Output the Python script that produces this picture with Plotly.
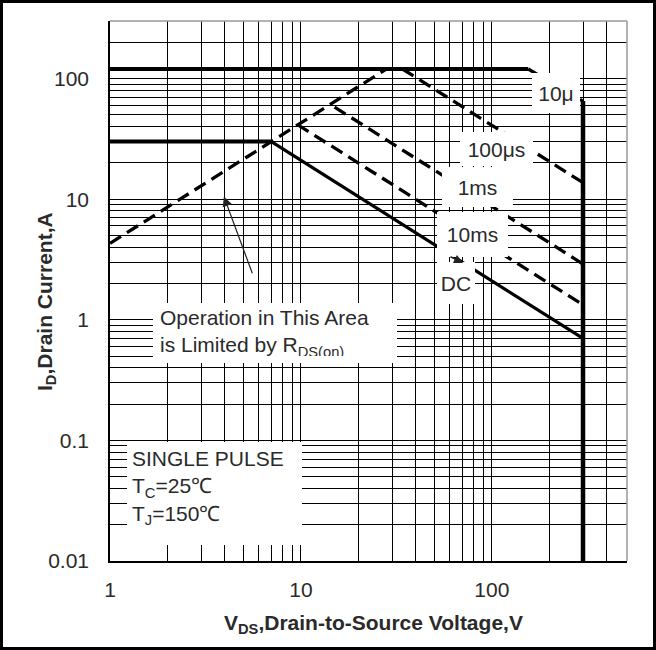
import math
import plotly.graph_objects as go

# ---------------- data ----------------
x_grid = [1, 2, 3, 4, 5, 6, 7, 8, 9, 10, 20, 30, 40, 50, 60, 70, 80, 90, 100, 200, 300, 400]
x_labels = {1: "1", 10: "10", 100: "100"}
y_grid = [0.01, 0.02, 0.03, 0.04, 0.05, 0.06, 0.07, 0.08, 0.09,
          0.1, 0.2, 0.3, 0.4, 0.5, 0.6, 0.7, 0.8, 0.9,
          1, 2, 3, 4, 5, 6, 7, 8, 9,
          10, 20, 30, 40, 50, 60, 70, 80, 90, 100, 200]
y_labels = {0.01: "0.01", 0.1: "0.1", 1: "1", 10: "10", 100: "100"}

limit_v = [1, 155];      limit_i = [120, 120]      # current limit (solid)
t10us_v = [155, 300];    t10us_i = [120, 65]       # 10us
rds_v = [1.0, 28];       rds_i = [4.3, 120]        # RDS(on) limit
t100us_v = [34, 300];    t100us_i = [120, 13.7]    # 100us
t1ms_v = [15, 300];      t1ms_i = [58, 2.9]        # 1ms
t10ms_v = [9.6, 300];    t10ms_i = [41.5, 1.33]    # 10ms
dcflat_v = [1, 7];       dcflat_i = [30, 30]       # DC current limit
dc_v = [7, 300];         dc_i = [30, 0.7]          # DC
bv_v = [300, 300];       bv_i = [65, 0.01]         # BVDSS limit

# ---------------- layout geometry ----------------
W, H = 656, 650
L, R, T, B = 110, 627, 21, 561
X_MAX = 510
Y_MIN, Y_MAX = 0.01, 300

def px(x):
    return (x - L) / (R - L)

def py(y):
    return (B - y) / (B - T)

FONT = "Liberation Sans, Arial, sans-serif"
TXT = "#2a2a2a"

fig = go.Figure()

solid = dict(color="black", width=4)
dash = dict(color="black", width=3.3, dash="13px,7px")

def add(x, y, line):
    fig.add_trace(go.Scatter(x=x, y=y, mode="lines", line=line,
                             showlegend=False, hoverinfo="skip"))

add(limit_v, limit_i, solid)
add(t10us_v, t10us_i, dash)
add(rds_v, rds_i, dash)
add(t100us_v, t100us_i, dash)
add(t1ms_v, t1ms_i, dash)
add(t10ms_v, t10ms_i, dash)
add(dcflat_v, dcflat_i, solid)
add(dc_v, dc_i, dict(color="black", width=3.2))
add(bv_v, bv_i, dict(color="black", width=4.5))

annotations = []

def box(x0, x1, y0, y1, text, align="center", pad=0, valign="middle"):
    annotations.append(dict(
        xref="paper", yref="paper", x=px(x0), y=py(y0),
        xanchor="left", yanchor="top",
        width=(x1 - x0) - 2 * pad, height=(y1 - y0) - 2 * pad,
        borderpad=pad, borderwidth=0,
        text=text, showarrow=False, align=align, valign=valign,
        bgcolor="white", font=dict(family=FONT, size=21, color=TXT)))

box(532, 580, 73, 113, "10μ")
box(460, 533, 132, 166, "100μs")
box(442, 513, 167, 207, "1ms")
box(437, 508, 212, 257, "10ms")
box(437, 475, 262, 304, "DC")
box(153, 397, 303, 363,
    "Operation in This Area<br>is Limited by R<sub>DS(on)</sub>", align="left", pad=7)
box(127, 302, 442, 545,
    "SINGLE PULSE<br>T<sub>C</sub>=25℃<br>T<sub>J</sub>=150℃", align="left", pad=5,
    valign="top")

# arrow pointing to the RDS(on) line
annotations.append(dict(
    xref="x", yref="y", x=math.log10(3.95), y=math.log10(10.5),
    axref="x", ayref="y", ax=math.log10(5.6), ay=math.log10(2.36),
    showarrow=True, arrowhead=2, arrowsize=1.6, arrowwidth=1.2,
    arrowcolor="#222", text=""))
# small pointer near the DC label
annotations.append(dict(
    xref="paper", yref="paper", x=px(463), y=py(263),
    ax=-14, ay=-7, showarrow=True, arrowhead=2, arrowsize=1.2,
    arrowwidth=1.5, arrowcolor="#222", text=""))

# axis titles
annotations.append(dict(
    xref="paper", yref="paper", x=px(373), y=py(624),
    xanchor="center", yanchor="middle", showarrow=False,
    text="<b>V<sub>DS</sub>,Drain-to-Source Voltage,V</b>",
    font=dict(family=FONT, size=21, color=TXT)))
annotations.append(dict(
    xref="paper", yref="paper", x=px(46), y=py(302),
    xanchor="center", yanchor="middle", showarrow=False, textangle=-90,
    text="<b>I<sub>D</sub>,Drain Current,A</b>",
    font=dict(family=FONT, size=21, color=TXT)))

shapes = [
    dict(type="line", xref="paper", yref="paper", x0=0, x1=1, y0=1, y1=1,
         line=dict(color="#9a9a9a", width=1.5)),
    dict(type="line", xref="paper", yref="paper", x0=1, x1=1, y0=0, y1=1,
         line=dict(color="#9a9a9a", width=1.5)),
    dict(type="rect", xref="paper", yref="paper",
         x0=px(1.5), x1=px(W - 1.5), y0=py(H - 1.5), y1=py(1.5),
         line=dict(color="black", width=3)),
]

fig.update_layout(
    width=W, height=H,
    margin=dict(l=L, r=W - R, t=T, b=H - B),
    paper_bgcolor="white", plot_bgcolor="white",
    annotations=annotations, shapes=shapes,
    font=dict(family=FONT, size=21, color=TXT),
)
fig.update_xaxes(
    type="log", range=[0, math.log10(X_MAX)],
    tickmode="array", tickvals=x_grid,
    ticktext=[x_labels.get(v, "") for v in x_grid],
    showgrid=True, gridcolor="black", gridwidth=1.4,
    zeroline=False, showline=True, linecolor="black", linewidth=1.5,
    ticks="", ticklabelstandoff=9,
    tickfont=dict(family=FONT, size=21, color=TXT),
)
fig.update_yaxes(
    type="log", range=[math.log10(Y_MIN), math.log10(Y_MAX)],
    tickmode="array", tickvals=y_grid,
    ticktext=[y_labels.get(v, "") for v in y_grid],
    showgrid=True, gridcolor="black", gridwidth=1.4,
    zeroline=False, showline=True, linecolor="black", linewidth=1.5,
    ticks="", ticklabelstandoff=15,
    tickfont=dict(family=FONT, size=21, color=TXT),
)

fig.write_html("out.html", config={"displayModeBar": False},
               post_script="document.body.style.margin='0';")
